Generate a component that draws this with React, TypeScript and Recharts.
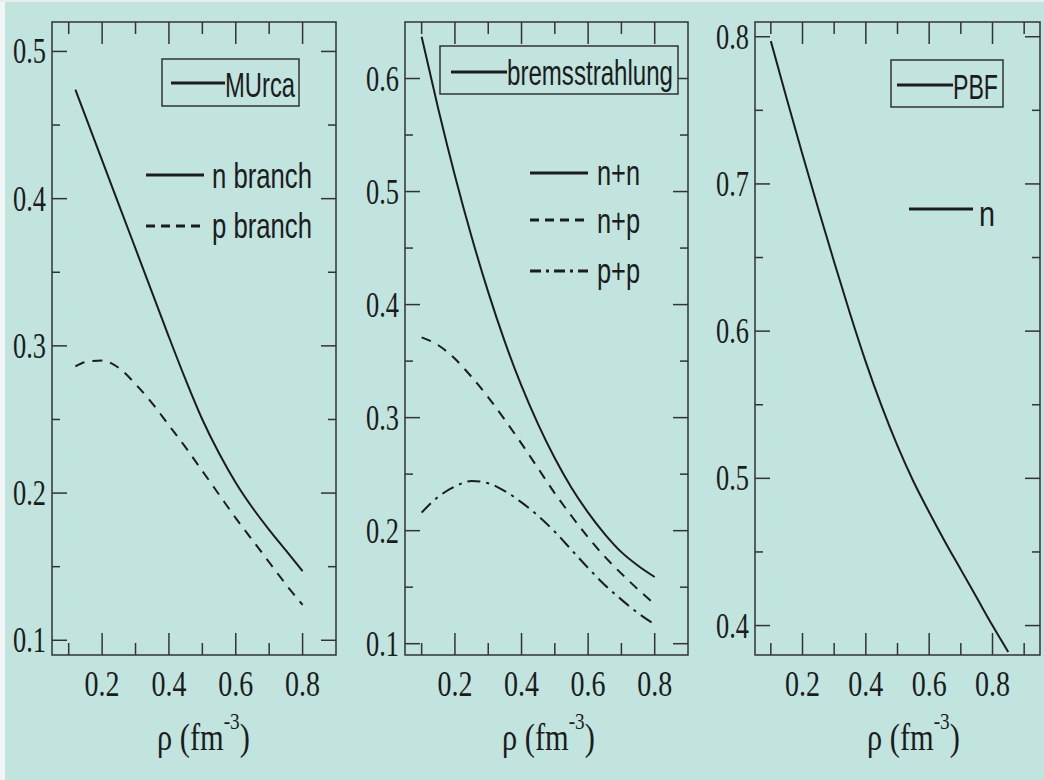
import React from 'react';
import { LineChart, Line, XAxis, YAxis, ReferenceArea } from 'recharts';

// MUrca panel
const murcaRho = [0.12, 0.15, 0.2, 0.25, 0.3, 0.35, 0.4, 0.45, 0.5, 0.55, 0.6, 0.65, 0.7, 0.75, 0.8];
const murcaN = [0.474, 0.456, 0.426, 0.396, 0.366, 0.336, 0.306, 0.277, 0.25, 0.227, 0.207, 0.19, 0.175, 0.161, 0.147];
const murcaP = [0.286, 0.289, 0.29, 0.285, 0.274, 0.261, 0.246, 0.231, 0.215, 0.199, 0.183, 0.168, 0.153, 0.138, 0.124];

// bremsstrahlung panel
const bremsRho = [0.1, 0.15, 0.2, 0.25, 0.3, 0.35, 0.4, 0.45, 0.5, 0.55, 0.6, 0.65, 0.7, 0.75, 0.8];
const bremsNN = [0.637, 0.573, 0.514, 0.46, 0.411, 0.367, 0.328, 0.294, 0.264, 0.238, 0.216, 0.197, 0.181, 0.169, 0.159];
const bremsNP = [0.371, 0.364, 0.352, 0.336, 0.318, 0.298, 0.277, 0.255, 0.233, 0.213, 0.194, 0.177, 0.162, 0.148, 0.135];
const bremsPP = [0.216, 0.23, 0.239, 0.244, 0.242, 0.235, 0.225, 0.213, 0.199, 0.183, 0.167, 0.152, 0.139, 0.127, 0.117];

// PBF panel
const pbfRho = [0.1, 0.15, 0.2, 0.25, 0.3, 0.35, 0.4, 0.45, 0.5, 0.55, 0.6, 0.65, 0.7, 0.75, 0.8, 0.85];
const pbfN = [0.797, 0.758, 0.72, 0.683, 0.647, 0.612, 0.579, 0.549, 0.522, 0.498, 0.477, 0.457, 0.438, 0.419, 0.4, 0.382];

// ticks
const xTicks = [0.1, 0.2, 0.3, 0.4, 0.5, 0.6, 0.7, 0.8];
const pbfXTicks = [0.1, 0.2, 0.3, 0.4, 0.5, 0.6, 0.7, 0.8, 0.9];
const murcaYTicks = [0.1, 0.15, 0.2, 0.25, 0.3, 0.35, 0.4, 0.45, 0.5];
const bremsYTicks = [0.1, 0.15, 0.2, 0.25, 0.3, 0.35, 0.4, 0.45, 0.5, 0.55, 0.6];
const pbfYTicks = [0.4, 0.45, 0.5, 0.55, 0.6, 0.65, 0.7, 0.75, 0.8];

const BG = '#c1e4df';
const INK = '#1c1c1c';
const AXIS = '#333';
const SERIF = '"Liberation Serif", "Times New Roman", serif';
const SANS = '"Liberation Sans", Arial, sans-serif';
const H = 780;
const TOP = 22;
const XAXIS_H = 125;

type Geo = { left: number; right: number; top: number; bottom: number };

const isStep = (v: number, per: number) => Math.abs(v * per - Math.round(v * per)) < 1e-6;

const makeXTick = (g: Geo) => (props: any) => {
  const { x, payload } = props;
  const v = payload.value as number;
  const major = isStep(v, 5);
  const len = major ? 22 : 12;
  return (
    <g>
      <line x1={x} x2={x} y1={g.bottom} y2={g.bottom - len} stroke={AXIS} strokeWidth={1.5} />
      <line x1={x} x2={x} y1={g.top} y2={g.top + len} stroke={AXIS} strokeWidth={1.5} />
      {major && (
        <text x={x} y={g.bottom + 41} textAnchor="middle" fontFamily={SERIF} fontSize={35} fill={INK}
          textLength={35} lengthAdjust="spacingAndGlyphs">
          {v.toFixed(1)}
        </text>
      )}
    </g>
  );
};

const makeYTick = (g: Geo) => (props: any) => {
  const { y, payload } = props;
  const v = payload.value as number;
  const major = isStep(v, 10);
  const len = major ? 15 : 8;
  return (
    <g>
      <line x1={g.left} x2={g.left + len} y1={y} y2={y} stroke={AXIS} strokeWidth={1.5} />
      <line x1={g.right} x2={g.right - len} y1={y} y2={y} stroke={AXIS} strokeWidth={1.5} />
      {major && (
        <text x={g.left - 6} y={y + 12} textAnchor="end" fontFamily={SERIF} fontSize={35} fill={INK}
          textLength={33} lengthAdjust="spacingAndGlyphs">
          {v.toFixed(1)}
        </text>
      )}
    </g>
  );
};

type Series = { key: string; dash?: string };

interface PanelProps {
  left: number;
  width: number;
  yAxisWidth: number;
  marginRight: number;
  xDomain: [number, number];
  yDomain: [number, number];
  xTicksList: number[];
  yTicksList: number[];
  data: Record<string, number>[];
  series: Series[];
}

function Panel({ left, width, yAxisWidth, marginRight, xDomain, yDomain, xTicksList, yTicksList, data, series }: PanelProps) {
  const geo: Geo = { left: yAxisWidth, right: width - marginRight, top: TOP, bottom: H - XAXIS_H };
  return (
    <div style={{ position: 'absolute', left, top: 0 }}>
      <LineChart width={width} height={H} data={data} margin={{ top: TOP, right: marginRight, bottom: 0, left: 0 }}>
        <XAxis dataKey="rho" type="number" domain={xDomain} ticks={xTicksList} interval={0} allowDataOverflow
          height={XAXIS_H} tickLine={false} axisLine={false} tick={makeXTick(geo)} />
        <YAxis type="number" domain={yDomain} ticks={yTicksList} interval={0} allowDataOverflow
          width={yAxisWidth} tickLine={false} axisLine={false} tick={makeYTick(geo)} />
        <ReferenceArea x1={xDomain[0]} x2={xDomain[1]} y1={yDomain[0]} y2={yDomain[1]}
          fill="none" fillOpacity={0} stroke={AXIS} strokeWidth={1.5} />
        {series.map(s => (
          <Line key={s.key} type="monotone" dataKey={s.key} stroke={INK} strokeWidth={2}
            strokeDasharray={s.dash} dot={false} activeDot={false} isAnimationActive={false} />
        ))}
      </LineChart>
    </div>
  );
}

const murcaData = murcaRho.map((rho, i) => ({ rho, n: murcaN[i], p: murcaP[i] }));
const bremsData = bremsRho.map((rho, i) => ({ rho, nn: bremsNN[i], np: bremsNP[i], pp: bremsPP[i] }));
const pbfData = pbfRho.map((rho, i) => ({ rho, n: pbfN[i] }));

const DASH = '10 8';
const DASHDOT = '13 6 3 6';

function LegendText({ x, y, w, children }: { x: number; y: number; w: number; children: React.ReactNode }) {
  return (
    <text x={x} y={y} fontFamily={SANS} fontSize={35} fill={INK} textLength={w} lengthAdjust="spacingAndGlyphs">
      {children}
    </text>
  );
}

function Seg({ x1, x2, y, dash }: { x1: number; x2: number; y: number; dash?: string }) {
  return <line x1={x1} x2={x2} y1={y} y2={y} stroke={INK} strokeWidth={3} strokeDasharray={dash} />;
}

function AxisTitle({ x }: { x: number }) {
  return (
    <g transform={`translate(${x},750) scale(0.8,1)`}>
      <text x={0} y={0} fontFamily={SERIF} fontSize={38} fill={INK}>
        ρ (fm<tspan dy={-21} fontSize={24}>-3</tspan><tspan dy={21}>)</tspan>
      </text>
    </g>
  );
}

export default function App() {
  return (
    <div style={{ position: 'absolute', left: 0, top: 0, width: 1044, height: 780, background: BG, overflow: 'hidden' }}>
      <div style={{ position: 'absolute', left: 0, top: 0, width: 5, height: 780, background: '#f2f5f6' }} />
      <div style={{ position: 'absolute', left: 0, top: 0, width: 1044, height: 2, background: '#e9eeee' }} />

      <Panel left={0} width={345} yAxisWidth={52} marginRight={9} xDomain={[0.05, 0.9]} yDomain={[0.09, 0.52]}
        xTicksList={xTicks} yTicksList={murcaYTicks} data={murcaData}
        series={[{ key: 'n' }, { key: 'p', dash: DASH }]} />
      <Panel left={345} width={345} yAxisWidth={60} marginRight={2} xDomain={[0.05, 0.9]} yDomain={[0.09, 0.65]}
        xTicksList={xTicks} yTicksList={bremsYTicks} data={bremsData}
        series={[{ key: 'nn' }, { key: 'np', dash: DASH }, { key: 'pp', dash: DASHDOT }]} />
      <Panel left={690} width={354} yAxisWidth={65} marginRight={4} xDomain={[0.05, 0.95]} yDomain={[0.38, 0.81]}
        xTicksList={pbfXTicks} yTicksList={pbfYTicks} data={pbfData}
        series={[{ key: 'n' }]} />

      <svg width={1044} height={780} style={{ position: 'absolute', left: 0, top: 0, pointerEvents: 'none' }}>
        {/* MUrca legends */}
        <rect x={162} y={59} width={137} height={47} fill={BG} stroke={AXIS} strokeWidth={1.5} />
        <Seg x1={171} x2={225} y={83} />
        <LegendText x={225} y={97} w={70}>MUrca</LegendText>
        <Seg x1={146} x2={204} y={175} />
        <LegendText x={212} y={188} w={100}>n branch</LegendText>
        <Seg x1={146} x2={204} y={226} dash="9 6" />
        <LegendText x={212} y={238} w={100}>p branch</LegendText>

        {/* bremsstrahlung legends */}
        <rect x={440} y={46} width={238} height={48} fill={BG} stroke={AXIS} strokeWidth={1.5} />
        <Seg x1={451} x2={507} y={72} />
        <LegendText x={507} y={85} w={166}>bremsstrahlung</LegendText>
        <Seg x1={530} x2={588} y={173} />
        <LegendText x={597} y={185} w={43}>n+n</LegendText>
        <Seg x1={530} x2={588} y={220} dash="9 6" />
        <LegendText x={597} y={233} w={43}>n+p</LegendText>
        <Seg x1={530} x2={588} y={271} dash="11 5 3 5" />
        <LegendText x={597} y={283} w={43}>p+p</LegendText>

        {/* PBF legends */}
        <rect x={891} y={60} width={112} height={47} fill={BG} stroke={AXIS} strokeWidth={1.5} />
        <Seg x1={897} x2={953} y={85} />
        <LegendText x={953} y={99} w={45}>PBF</LegendText>
        <Seg x1={909} x2={973} y={209} />
        <LegendText x={979} y={226} w={16}>n</LegendText>

        <AxisTitle x={157} />
        <AxisTitle x={502} />
        <AxisTitle x={867} />
      </svg>
    </div>
  );
}
